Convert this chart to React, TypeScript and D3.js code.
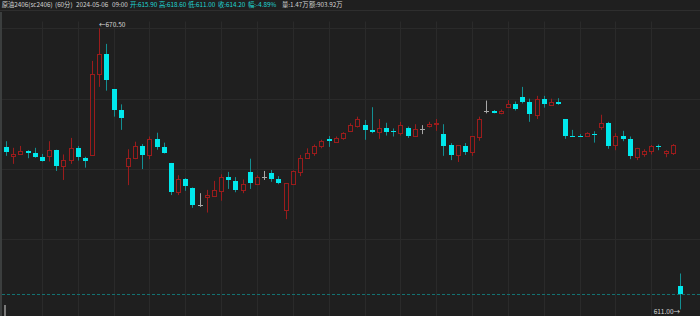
import React from "react";
import * as d3 from "d3";

// ---- data ----
const opens = [
  645.4, 643.4, 643.8, 644.5, 644.0, 643.2, 643.5, 644.7, 641.3, 642.6,
  645.2, 643.1, 643.7, 660.8, 665.1, 657.6, 653.2, 641.4, 643.0, 645.5,
  643.7, 647.1, 645.4, 642.0, 635.8, 638.7, 636.7, 633.2, 634.7, 635.1,
  636.1, 639.0, 638.2, 636.2, 640.0, 637.6, 639.0, 639.9, 638.6, 632.0,
  637.6, 640.1, 643.0, 644.0, 645.5, 647.0, 646.5, 647.2, 648.8, 649.8,
  650.0, 648.9, 648.5, 649.4, 648.8, 648.4, 649.5, 647.8, 649.2, 649.8,
  650.2, 648.1, 645.7, 643.7, 645.6, 644.4, 647.4, 653.1, 653.1, 652.6,
  653.9, 654.5, 655.9, 654.9, 652.2, 655.5, 654.3, 654.9, 651.2, 647.7,
  647.7, 647.6, 648.2, 649.7, 650.4, 645.7, 647.6, 647.1, 643.3, 643.8,
  644.6, 645.6, 644.2, 644.2, 615.9,
];
const highs = [
  646.6, 645.2, 645.6, 644.7, 645.2, 643.9, 646.6, 644.8, 643.8, 647.3,
  645.6, 643.3, 663.6, 670.5, 667.2, 657.6, 654.4, 644.9, 646.5, 646.0,
  647.6, 648.4, 646.3, 642.0, 639.4, 638.8, 636.8, 635.6, 636.3, 638.2,
  639.6, 640.1, 639.0, 638.5, 642.9, 639.4, 640.3, 640.5, 639.2, 637.7,
  640.4, 643.7, 645.1, 645.9, 646.9, 647.7, 647.6, 648.5, 650.4, 651.8,
  651.1, 653.8, 651.3, 650.5, 649.3, 650.7, 649.7, 650.2, 650.0, 650.7,
  651.3, 650.2, 646.2, 645.8, 646.2, 647.7, 651.8, 655.2, 653.2, 653.3,
  655.3, 655.0, 658.1, 655.6, 656.2, 656.2, 655.6, 655.7, 651.3, 649.0,
  648.1, 648.5, 648.7, 652.2, 650.7, 648.3, 648.8, 647.6, 645.2, 644.9,
  645.8, 645.9, 644.7, 646.0, 618.6,
];
const lows = [
  643.5, 641.8, 643.7, 643.0, 643.1, 642.3, 642.3, 640.3, 638.4, 641.8,
  642.5, 641.0, 643.7, 658.1, 657.3, 651.8, 649.0, 637.3, 642.8, 640.7,
  642.8, 644.8, 644.0, 635.2, 635.2, 636.1, 632.5, 632.7, 631.5, 634.9,
  634.0, 636.5, 635.8, 635.6, 636.5, 637.6, 638.4, 638.0, 637.5, 630.1,
  637.6, 639.2, 642.9, 643.5, 645.1, 645.4, 646.5, 646.9, 648.7, 649.5,
  646.9, 648.3, 647.1, 647.8, 647.6, 647.8, 647.3, 647.6, 648.1, 649.5,
  648.8, 643.5, 642.6, 642.2, 643.7, 643.5, 646.7, 652.5, 652.5, 652.3,
  653.8, 653.1, 654.6, 650.7, 651.3, 653.7, 654.1, 654.3, 647.1, 647.5,
  647.5, 647.5, 646.3, 649.0, 645.0, 644.7, 646.6, 642.8, 642.6, 643.3,
  643.8, 644.7, 643.2, 643.7, 611.0,
];
const closes = [
  644.3, 643.9, 644.5, 644.2, 643.3, 642.4, 644.7, 641.3, 642.6, 645.2,
  643.2, 642.4, 660.8, 665.1, 659.6, 653.2, 651.6, 643.1, 645.6, 643.7,
  647.1, 645.4, 644.1, 635.9, 638.7, 637.2, 633.2, 633.2, 635.3, 636.2,
  639.0, 638.3, 636.3, 637.6, 637.8, 639.0, 639.0, 638.5, 637.8, 637.7,
  640.2, 643.0, 644.0, 645.6, 646.7, 646.6, 647.2, 648.3, 650.0, 651.2,
  648.9, 648.6, 649.3, 648.5, 648.5, 650.0, 647.8, 649.2, 649.2, 650.3,
  650.5, 645.6, 643.7, 645.7, 644.3, 647.6, 651.2, 653.1, 652.6, 653.1,
  654.5, 653.4, 654.9, 652.3, 655.6, 654.5, 654.9, 654.4, 647.8, 647.6,
  647.6, 648.3, 647.9, 650.5, 645.6, 647.6, 647.1, 643.4, 645.1, 644.6,
  645.6, 645.3, 644.5, 645.7, 614.2,
];

const headerTexts = [
  "原油2406(sc2406)", "(60分)", "2024-05-06", "09:00",
  "开:615.90", "高:618.60", "低:611.00", "收:614.20", "幅:-4.89%",
  "量:1.47万", "额:903.92万",
];
const headerIsQuote = [false, false, false, false, true, true, true, true, true, false, false];

// ---- layout / style ----
const W = 700;
const H = 316;
const BG = "#1f1f1f";
const GRID = "#2a2a2a";
const UP = "#9b1c1c";
const DOWN_FILL = "#00e8ec";
const DOWN_WICK = "#138f92";
const FLAT = "#a8a8a8";
const headerX = [1.7, 55, 76, 112, 130, 159, 188, 218, 248, 282, 309];
const FONT = "'Noto Sans CJK SC', 'Noto Sans', sans-serif";

export default function App() {
  const n = opens.length;
  const x = d3.scaleLinear().domain([0, n - 1]).range([6, 680]);
  const yMin = d3.min(lows) as number;
  const yMax = d3.max(highs) as number;
  const y = d3.scaleLinear().domain([yMin, yMax]).range([309.4, 28.3]);

  const iMax = highs.indexOf(yMax);
  const iMin = lows.indexOf(yMin);
  const lastClose = closes[n - 1];

  const hGrid = d3.range(4).map((k) => 28.3 + k * ((309.4 - 28.3) / 4));
  const vGrid = d3.range(5, n - 1, 5);

  const candles = d3.range(n).map((i) => {
    const o = opens[i], c = closes[i], h = highs[i], l = lows[i];
    const cx = Math.round(x(i));
    const wx = cx + 0.5;
    const yH = y(h), yL = y(l);
    const yT = y(Math.max(o, c)), yB = y(Math.min(o, c));
    if (c > o) {
      const top = Math.round(yT) + 0.5;
      const bot = Math.max(Math.round(yB) + 0.5, top + 1);
      return (
        <g key={i}>
          <line x1={wx} x2={wx} y1={yH} y2={yL} stroke={UP} strokeWidth={1} />
          <rect x={cx - 1.5} y={top} width={4} height={bot - top} fill={BG} stroke={UP} strokeWidth={1} />
        </g>
      );
    } else if (c < o) {
      const top = Math.round(yT);
      const hgt = Math.max(Math.round(yB) - top, 1);
      return (
        <g key={i}>
          <line x1={wx} x2={wx} y1={yH} y2={yL} stroke={DOWN_WICK} strokeWidth={1} />
          <rect x={cx - 2} y={top} width={5} height={hgt} fill={DOWN_FILL} />
        </g>
      );
    }
    const yy = Math.round(yT) + 0.5;
    return (
      <g key={i}>
        <line x1={wx} x2={wx} y1={yH} y2={yL} stroke={FLAT} strokeWidth={1} />
        <line x1={cx - 2} x2={cx + 3} y1={yy} y2={yy} stroke={FLAT} strokeWidth={1} />
      </g>
    );
  });

  return (
    <svg width={W} height={H} style={{ position: "absolute", left: 0, top: 0, background: BG }} fontFamily={FONT}>
      <rect x={0} y={0} width={W} height={H} fill={BG} />
      {/* header */}
      {headerTexts.map((t, i) => (
        <text key={i} x={headerX[i]} y={7.2} fontSize={6.3} fill={headerIsQuote[i] ? "#1fd6d6" : "#d4d4d4"}>
          {t}
        </text>
      ))}
      <line x1={0} x2={W} y1={10.5} y2={10.5} stroke="#2e2e2e" strokeWidth={1} />
      {/* grid */}
      {hGrid.map((gy, i) => (
        <line key={"h" + i} x1={2} x2={W} y1={Math.round(gy) + 0.5} y2={Math.round(gy) + 0.5} stroke={GRID} strokeWidth={1} />
      ))}
      {vGrid.map((gi) => (
        <line key={"v" + gi} x1={Math.round(x(gi)) + 0.5} x2={Math.round(x(gi)) + 0.5} y1={21.5} y2={H} stroke={GRID} strokeWidth={1} />
      ))}
      {/* left border */}
      <rect x={0} y={12} width={2} height={H - 12} fill="#3b3e3e" />
      <rect x={4} y={305} width={2} height={11} fill="#7a7a7a" />
      {/* last price line */}
      <line x1={2} x2={W} y1={Math.round(y(lastClose)) + 0.5} y2={Math.round(y(lastClose)) + 0.5}
        stroke="#147272" strokeWidth={1} strokeDasharray="3,2" />
      {candles}
      {/* high / low labels */}
      <text x={Math.round(x(iMax))} y={y(yMax) - 1.6} fontSize={6.5} fill="#d8d8d8">
        {"←" + yMax.toFixed(2)}
      </text>
      <text x={Math.round(x(iMin))} y={y(yMin) + 5} fontSize={6.5} fill="#d8d8d8" textAnchor="end">
        {yMin.toFixed(2) + "→"}
      </text>
    </svg>
  );
}
